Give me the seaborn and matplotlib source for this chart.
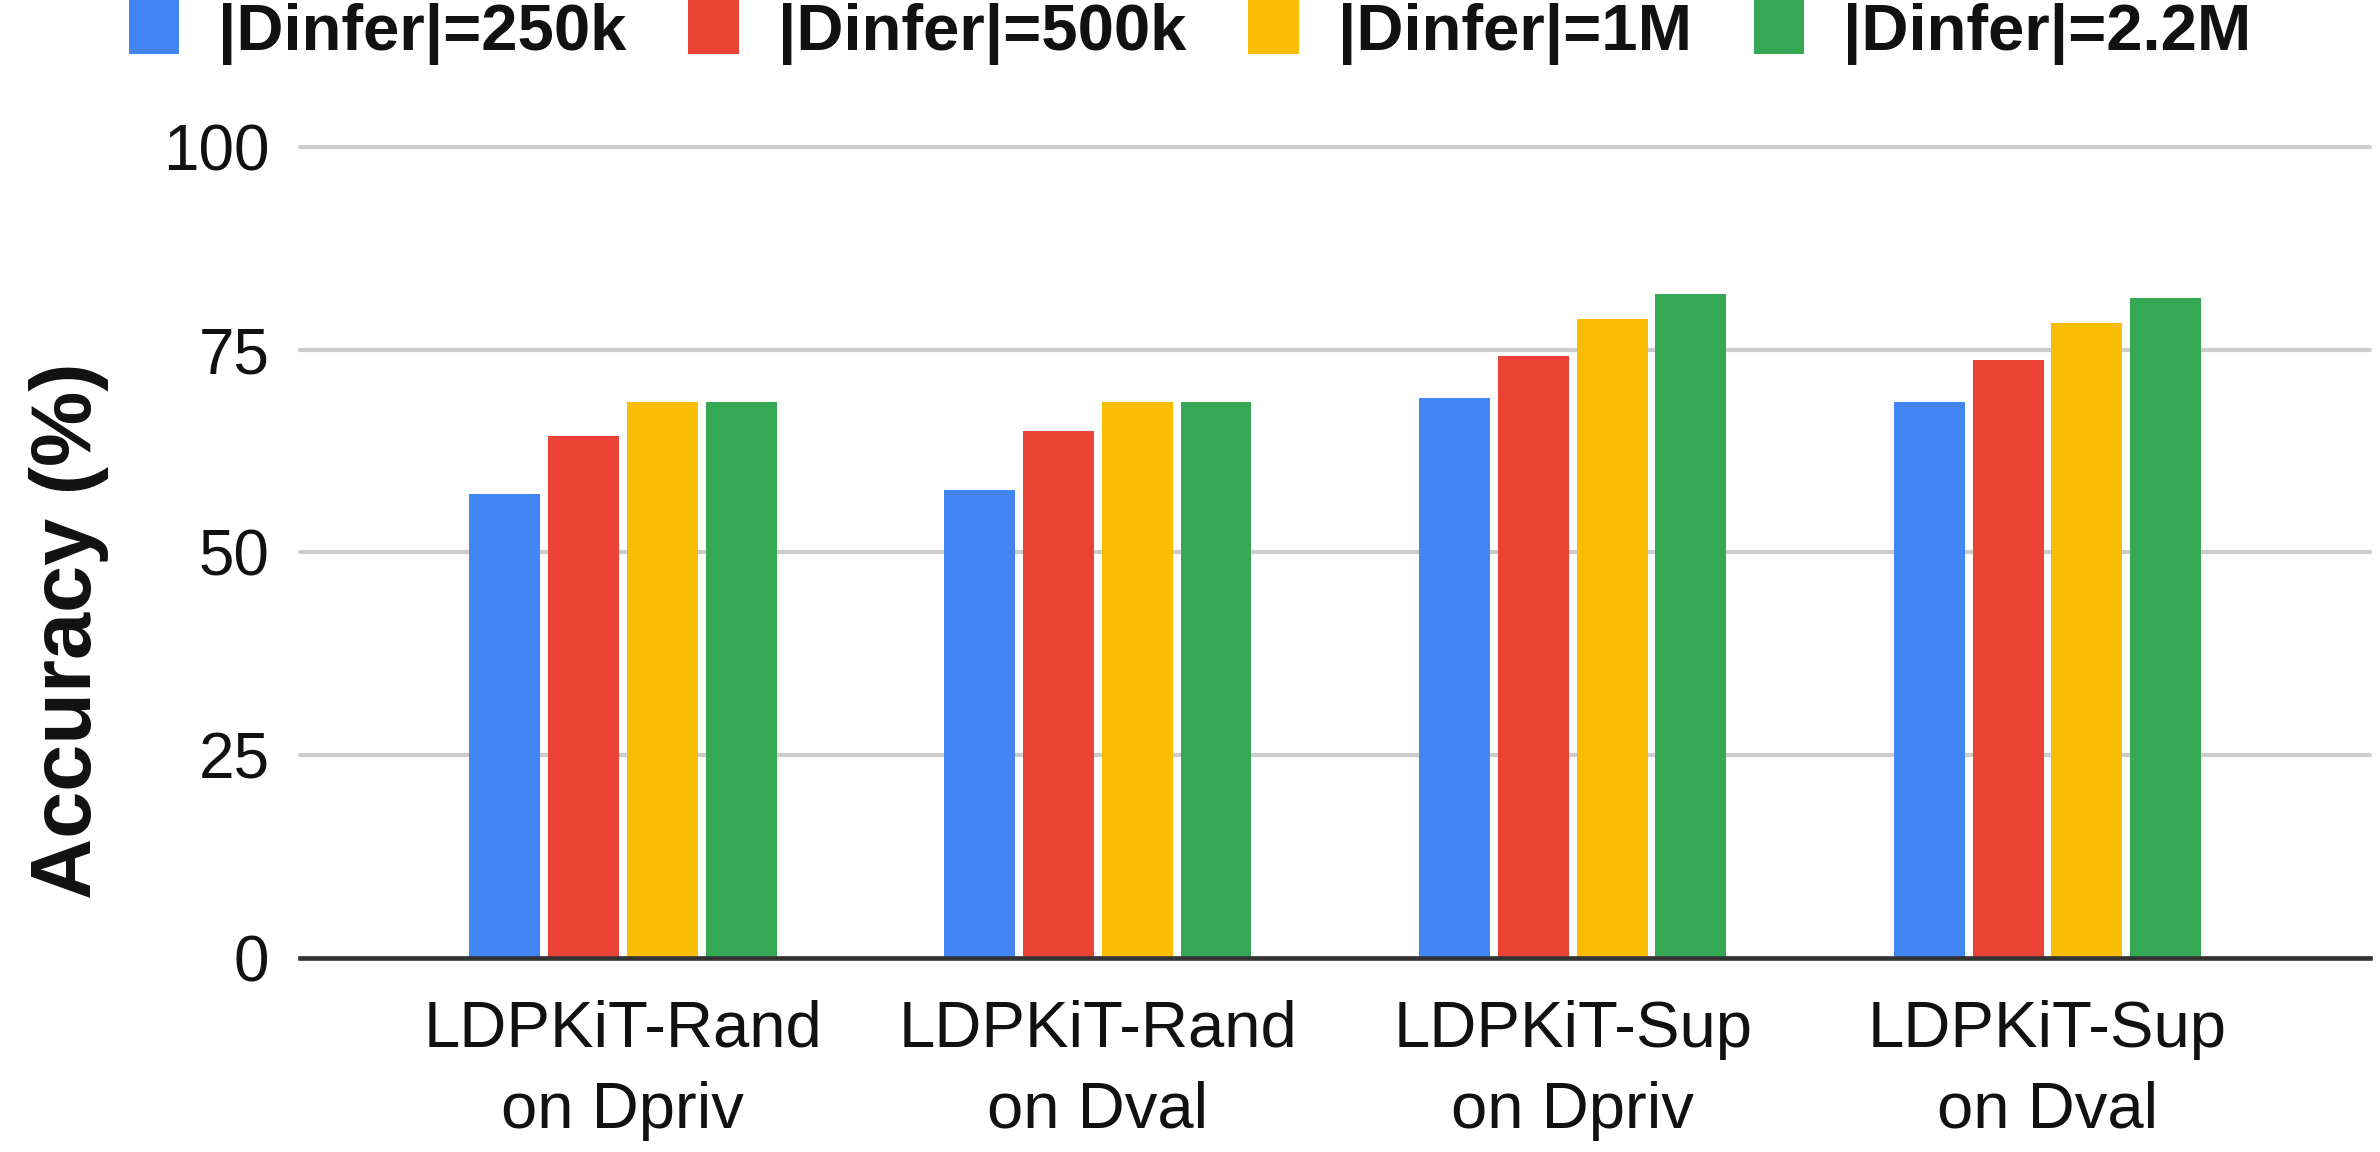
import matplotlib
matplotlib.use("Agg")
import matplotlib.pyplot as plt
import seaborn as sns
import pandas as pd

categories = ["LDPKiT-Rand\non Dpriv", "LDPKiT-Rand\non Dval", "LDPKiT-Sup\non Dpriv", "LDPKiT-Sup\non Dval"]
series_names = ["|Dinfer|=250k", "|Dinfer|=500k", "|Dinfer|=1M", "|Dinfer|=2.2M"]
acc_250k = [57.2, 57.7, 69.1, 68.6]
acc_500k = [64.4, 65.0, 74.2, 73.7]
acc_1m = [68.6, 68.6, 78.8, 78.3]
acc_2_2m = [68.6, 68.6, 81.9, 81.4]
y_ticks = [0, 25, 50, 75, 100]
colors = ["#4285F4", "#EA4335", "#FBBC04", "#34A853"]

rows = []
for name, vals in zip(series_names, [acc_250k, acc_500k, acc_1m, acc_2_2m]):
    for c, v in zip(categories, vals):
        rows.append({"cat": c, "series": name, "acc": v})
df = pd.DataFrame(rows)

sns.set_theme(style="white")
plt.rcParams["font.family"] = ["Liberation Sans", "DejaVu Sans"]

fig = plt.figure(figsize=(23.8, 11.52), dpi=100)
ax = fig.add_axes([0.126, 0.1684, 0.87, 0.704])

sns.barplot(data=df, x="cat", y="acc", hue="series", palette=colors,
            order=categories, hue_order=series_names,
            width=0.664, gap=0.1, ax=ax, legend=True, linewidth=0, saturation=1)

ax.set_xlim(-0.68, 3.68)
ax.set_ylim(0, 100)
ax.set_yticks(y_ticks)
ax.set_yticklabels([str(t) for t in y_ticks])
ax.yaxis.grid(True, color="#cccccc", linewidth=3)
ax.set_axisbelow(True)
for s in ["top", "right", "left"]:
    ax.spines[s].set_visible(False)
ax.spines["bottom"].set_color("#333333")
ax.spines["bottom"].set_linewidth(3.3)
ax.spines["bottom"].set_zorder(5)
ax.tick_params(axis="y", length=0, pad=22, labelsize=46, labelcolor="#111111")
ax.tick_params(axis="x", length=0, pad=30, labelsize=47, labelcolor="#111111")
for lbl in ax.get_xticklabels():
    lbl.set_linespacing(1.45)
ax.set_xlabel("")
ax.set_ylabel("Accuracy (%)", fontsize=61, fontweight="bold", color="#111111")
ax.yaxis.set_label_coords(-0.092, 0.404)
for gl in ax.get_ygridlines():
    gl.set_clip_on(False)

handles, labels = ax.get_legend_handles_labels()
ax.legend_.remove()
fig.legend(handles, labels, loc="center", bbox_to_anchor=(0.5, 0.972), ncol=4,
           frameon=False, prop={"size": 47, "weight": "bold"},
           handlelength=0.77, handleheight=0.9, handletextpad=0.6,
           columnspacing=0.95, labelcolor="#111111")

fig.savefig("out.png", dpi=100)
